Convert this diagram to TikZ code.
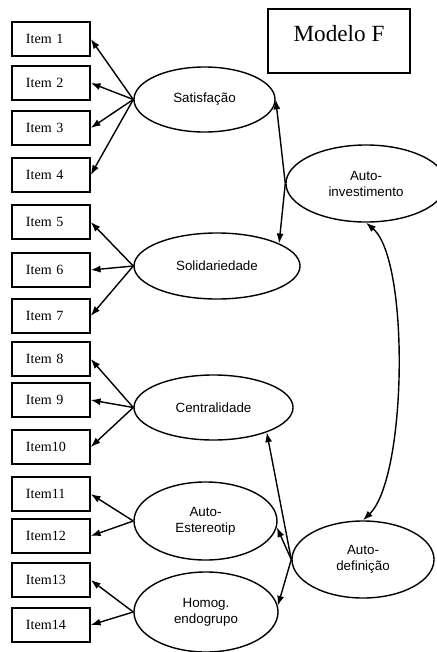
\documentclass[tikz,border=0pt]{standalone}
\usepackage{fontspec}
\setmainfont{Liberation Serif}
\setsansfont{Liberation Sans}
\usetikzlibrary{shapes.geometric, arrows.meta}

\begin{document}
\begin{tikzpicture}[
    x=0.025cm, y=-0.025cm,
    >={Latex[length=7pt,width=5pt]},
    item/.style={draw,line width=1pt,minimum height=0.85cm,text width=1.25cm,inner xsep=0.35cm,align=left,font=\fontsize{10}{12}\selectfont},
    factor/.style={draw,ellipse,line width=1pt,inner sep=0pt,align=center,font=\sffamily\fontsize{9.5}{11.4}\selectfont},
    title box/.style={draw,line width=1pt,minimum width=3.55cm,minimum height=1.6cm,text height=0.4cm,text depth=0.4cm,font=\fontsize{16.5}{20}\selectfont},
    loading/.style={->,line width=1pt},
    link/.style={<->,line width=1pt}
    ]
    \useasboundingbox (0,0) rectangle (436,652);
    % title
    \node [title box] (model) at (339,41) {Modelo F};
    % items
    \foreach \n/\y/\t in {1/39/Item 1,2/83/Item 2,3/128/Item 3,4/175/Item 4,5/222/Item 5,6/270/Item 6,7/316/Item 7,
        8/359/Item 8,9/400/Item 9,10/447/Item10,11/494/Item11,12/536/Item12,13/580/Item13,14/625/Item14} {
        \node [item] (item\n) at (51,\y) {\t};
    }
    % first order factors
    \node [factor,minimum width=3.525cm,minimum height=1.625cm] (sat) at (204.5,99.5) {Satisfação};
    \node [factor,minimum width=4.15cm,minimum height=1.65cm] (sol) at (217,266) {Solidariedade};
    \node [factor,minimum width=3.975cm,minimum height=1.625cm] (cen) at (213.5,407.5) {Centralidade};
    \node [factor,minimum width=3.575cm,minimum height=1.95cm] (est) at (205.5,521) {Auto-\\Estereotip};
    \node [factor,minimum width=3.6cm,minimum height=2cm] (hom) at (206,612) {Homog.\\endogrupo};
    % second order factors
    \node [factor,minimum width=4cm,minimum height=1.925cm] (inv) at (366,183.5) {Auto-\\investimento};
    \node [factor,minimum width=3.55cm,minimum height=1.925cm] (def) at (363,559.5) {Auto-\\definição};
    % edges
    \foreach \n in {1,...,4} \draw [loading] (sat.west) -- (item\n.east);
    \foreach \n in {5,6,7} \draw [loading] (sol.west) -- (item\n.east);
    \foreach \n in {8,9,10} \draw [loading] (cen.west) -- (item\n.east);
    \foreach \n in {11,12} \draw [loading] (est.west) -- (item\n.east);
    \foreach \n in {13,14} \draw [loading] (hom.west) -- (item\n.east);
    % inv - sat, sol
    \draw [loading] (inv.west) -- (sat.east);
    \draw [loading] (inv.west) -- (sol.20);
    % def - cen, est, hom
    \draw [loading] (def.west) -- (cen.-25);
    \draw [loading] (def.west) -- (est.-5);
    \draw [loading] (def.west) -- (hom.5);
    % inv - def
    \draw [link] (inv.south) .. controls (410,260) and (407,478) .. (def.north);
\end{tikzpicture}
\end{document}
